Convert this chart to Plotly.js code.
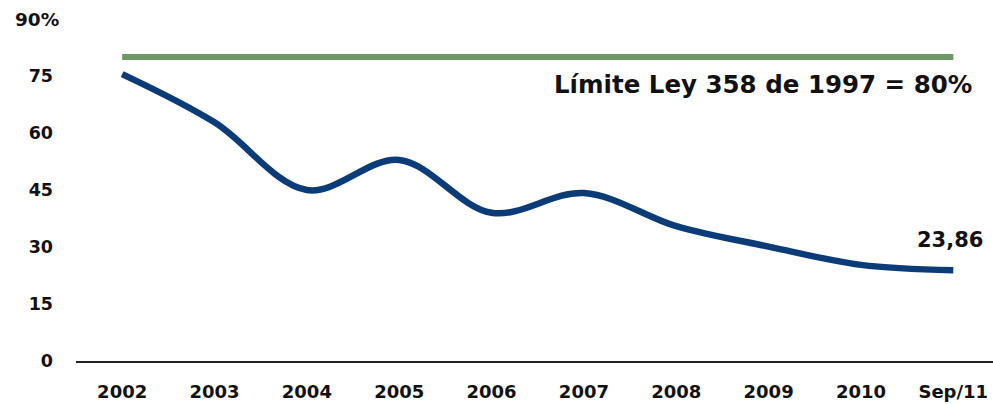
<!DOCTYPE html>
<html>
<head>
<meta charset="utf-8">
<script src="https://cdn.plot.ly/plotly-3.0.1.min.js"></script>
<style>
  html, body { margin: 0; padding: 0; background: #ffffff; }
  #chart { width: 993px; height: 404px; }
</style>
</head>
<body>
<div id="chart"></div>
<script>
// Periods on the horizontal axis
const periods = ['2002', '2003', '2004', '2005', '2006', '2007', '2008', '2009', '2010', 'Sep/11'];
// Indicator (%) per period
const ratio = [75.5, 62.8, 45.0, 52.9, 39.0, 44.2, 35.5, 30.1, 25.3, 23.86];
// Legal ceiling (Ley 358 de 1997)
const legalLimit = 80;
const limitValues = periods.map(() => legalLimit);
// Vertical axis ticks
const yTicks = [0, 15, 30, 45, 60, 75];

const FONT = '"DejaVu Sans", Verdana, sans-serif';
const lastIdx = periods.length - 1;

const traces = [
  {
    x: periods,
    y: limitValues,
    type: 'scatter',
    mode: 'lines',
    line: { color: '#6b9865', width: 6 },
    hoverinfo: 'skip'
  },
  {
    x: periods,
    y: ratio,
    type: 'scatter',
    mode: 'lines',
    line: { color: '#0b3c78', width: 6.5, shape: 'spline', smoothing: 1 },
    hoverinfo: 'skip'
  }
];

const layout = {
  width: 993,
  height: 404,
  margin: { l: 76, r: 0, t: 19, b: 43 },
  paper_bgcolor: '#ffffff',
  plot_bgcolor: '#ffffff',
  showlegend: false,
  font: { family: FONT, color: '#111111' },
  xaxis: {
    type: 'category',
    range: [-0.5, 9.43],
    showgrid: false,
    zeroline: false,
    showline: true,
    linecolor: '#222222',
    linewidth: 1.5,
    ticks: '',
    ticklabelstandoff: 14,
    tickfont: { family: FONT, size: 18, color: '#111111', weight: 'bold' }
  },
  yaxis: {
    range: [0, 90],
    tickvals: yTicks,
    ticktext: yTicks.map(String),
    showgrid: false,
    zeroline: false,
    showline: false,
    ticks: '',
    ticklabelstandoff: 22,
    tickfont: { family: FONT, size: 17.5, color: '#111111', weight: 'bold' }
  },
  annotations: [
    {
      xref: 'paper', yref: 'y',
      x: -0.016, y: 90,
      xanchor: 'right', yanchor: 'middle',
      text: '90%',
      showarrow: false,
      font: { family: FONT, size: 18.5, color: '#111111', weight: 'bold' }
    },
    {
      xref: 'x', yref: 'y',
      x: lastIdx, y: legalLimit,
      xanchor: 'right', yanchor: 'top',
      xshift: 21, yshift: -11,
      text: 'Límite Ley 358 de 1997 = ' + legalLimit + '%',
      showarrow: false,
      font: { family: FONT, size: 24.5, color: '#111111', weight: 'bold' }
    },
    {
      xref: 'x', yref: 'y',
      x: lastIdx, y: ratio[lastIdx],
      xanchor: 'right', yanchor: 'bottom',
      xshift: 32, yshift: 16,
      text: ratio[lastIdx].toFixed(2).replace('.', ','),
      showarrow: false,
      font: { family: FONT, size: 21, color: '#111111', weight: 'bold' }
    }
  ]
};

Plotly.newPlot('chart', traces, layout, { displayModeBar: false, staticPlot: true });
</script>
</body>
</html>
